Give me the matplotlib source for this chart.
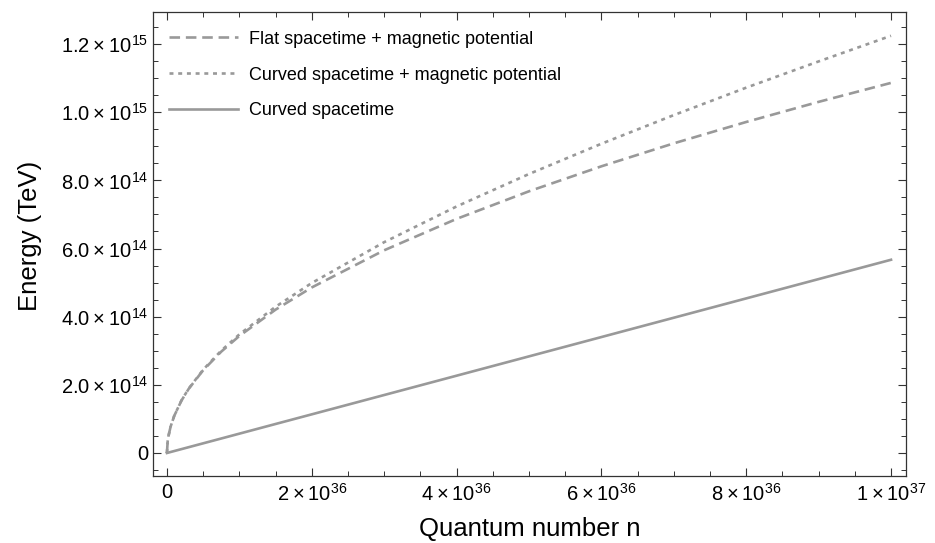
import matplotlib
matplotlib.use("Agg")
import matplotlib.pyplot as plt
from matplotlib.ticker import FixedLocator, MultipleLocator

plt.rcParams['font.family'] = ['Liberation Sans', 'DejaVu Sans']
plt.rcParams['mathtext.fontset'] = 'custom'
plt.rcParams['mathtext.rm'] = 'Liberation Sans'

# quantum number n (units of 1e36) and energies (units of 1e15 TeV)
n_vals = [0, 0.01, 0.02, 0.05, 0.1, 0.2, 0.3, 0.5, 0.75, 1, 1.5, 2, 3, 4, 5, 6, 7, 8, 9, 10]
flat_mag = [0, 0.0343, 0.0486, 0.0768, 0.1086, 0.1536, 0.1881, 0.2428, 0.2974, 0.3434,
            0.4206, 0.4857, 0.5948, 0.6869, 0.7679, 0.8412, 0.9086, 0.9713, 1.0303, 1.086]
curved_mag = [0, 0.0343, 0.0486, 0.0769, 0.1087, 0.1540, 0.1889, 0.2444, 0.3004, 0.3480,
              0.4291, 0.4988, 0.6186, 0.7234, 0.8186, 0.9074, 0.9915, 1.0720, 1.1490, 1.2242]
curved = [0, 0.00057, 0.00113, 0.00284, 0.00567, 0.01134, 0.0170, 0.02835, 0.0425, 0.0567,
          0.0851, 0.1134, 0.1701, 0.2268, 0.2835, 0.3402, 0.3969, 0.4536, 0.5103, 0.567]

x = [v * 1e36 for v in n_vals]
y1 = [v * 1e15 for v in flat_mag]
y2 = [v * 1e15 for v in curved_mag]
y3 = [v * 1e15 for v in curved]

xticks = [0, 2e36, 4e36, 6e36, 8e36, 1e37]
xlabels = ['0', r'$2\times10^{36}$', r'$4\times10^{36}$', r'$6\times10^{36}$',
           r'$8\times10^{36}$', r'$1\times10^{37}$']
yticks = [0, 2e14, 4e14, 6e14, 8e14, 1e15, 1.2e15]
ylabels = ['0', r'$2.0\times10^{14}$', r'$4.0\times10^{14}$', r'$6.0\times10^{14}$',
           r'$8.0\times10^{14}$', r'$1.0\times10^{15}$', r'$1.2\times10^{15}$']

col = '#999999'
fig = plt.figure(figsize=(9.35, 5.43), dpi=100)
ax = fig.add_axes([0.1636, 0.1234, 0.8054, 0.8545])

ax.plot(x, y1, color=col, lw=1.9, dashes=(4.0, 2.2), label='Flat spacetime + magnetic potential')
ax.plot(x, y2, color=col, lw=1.9, dashes=(1.5, 1.8), label='Curved spacetime + magnetic potential')
ax.plot(x, y3, color=col, lw=1.9, label='Curved spacetime')

ax.set_xlim(-0.193e36, 1.0207e37)
ax.set_ylim(-0.0675e15, 1.294e15)
ax.xaxis.set_major_locator(FixedLocator(xticks))
ax.set_xticklabels(xlabels)
ax.yaxis.set_major_locator(FixedLocator(yticks))
ax.set_yticklabels(ylabels)
ax.xaxis.set_minor_locator(MultipleLocator(5e35))
ax.yaxis.set_minor_locator(MultipleLocator(5e13))

ax.tick_params(axis='both', which='both', direction='in', top=True, right=True,
               labelsize=14.5, colors='#333333', labelcolor='black')
ax.tick_params(which='major', length=6, width=0.8)
ax.tick_params(which='minor', length=3.5, width=0.7)
ax.tick_params(axis='x', pad=5)
for s in ax.spines.values():
    s.set_color('#333333')
    s.set_linewidth(0.9)

ax.set_xlabel('Quantum number n', fontsize=18.5, labelpad=9)
ax.set_ylabel('Energy (TeV)', fontsize=18.5)
ax.yaxis.set_label_coords(-0.147, 0.517)

ax.legend(loc='upper left', frameon=False, fontsize=13, handlelength=3.8,
          labelspacing=1.05, borderaxespad=0.5, handletextpad=0.6,
          bbox_to_anchor=(0.0, 0.995))

fig.savefig('out.png', dpi=100)
